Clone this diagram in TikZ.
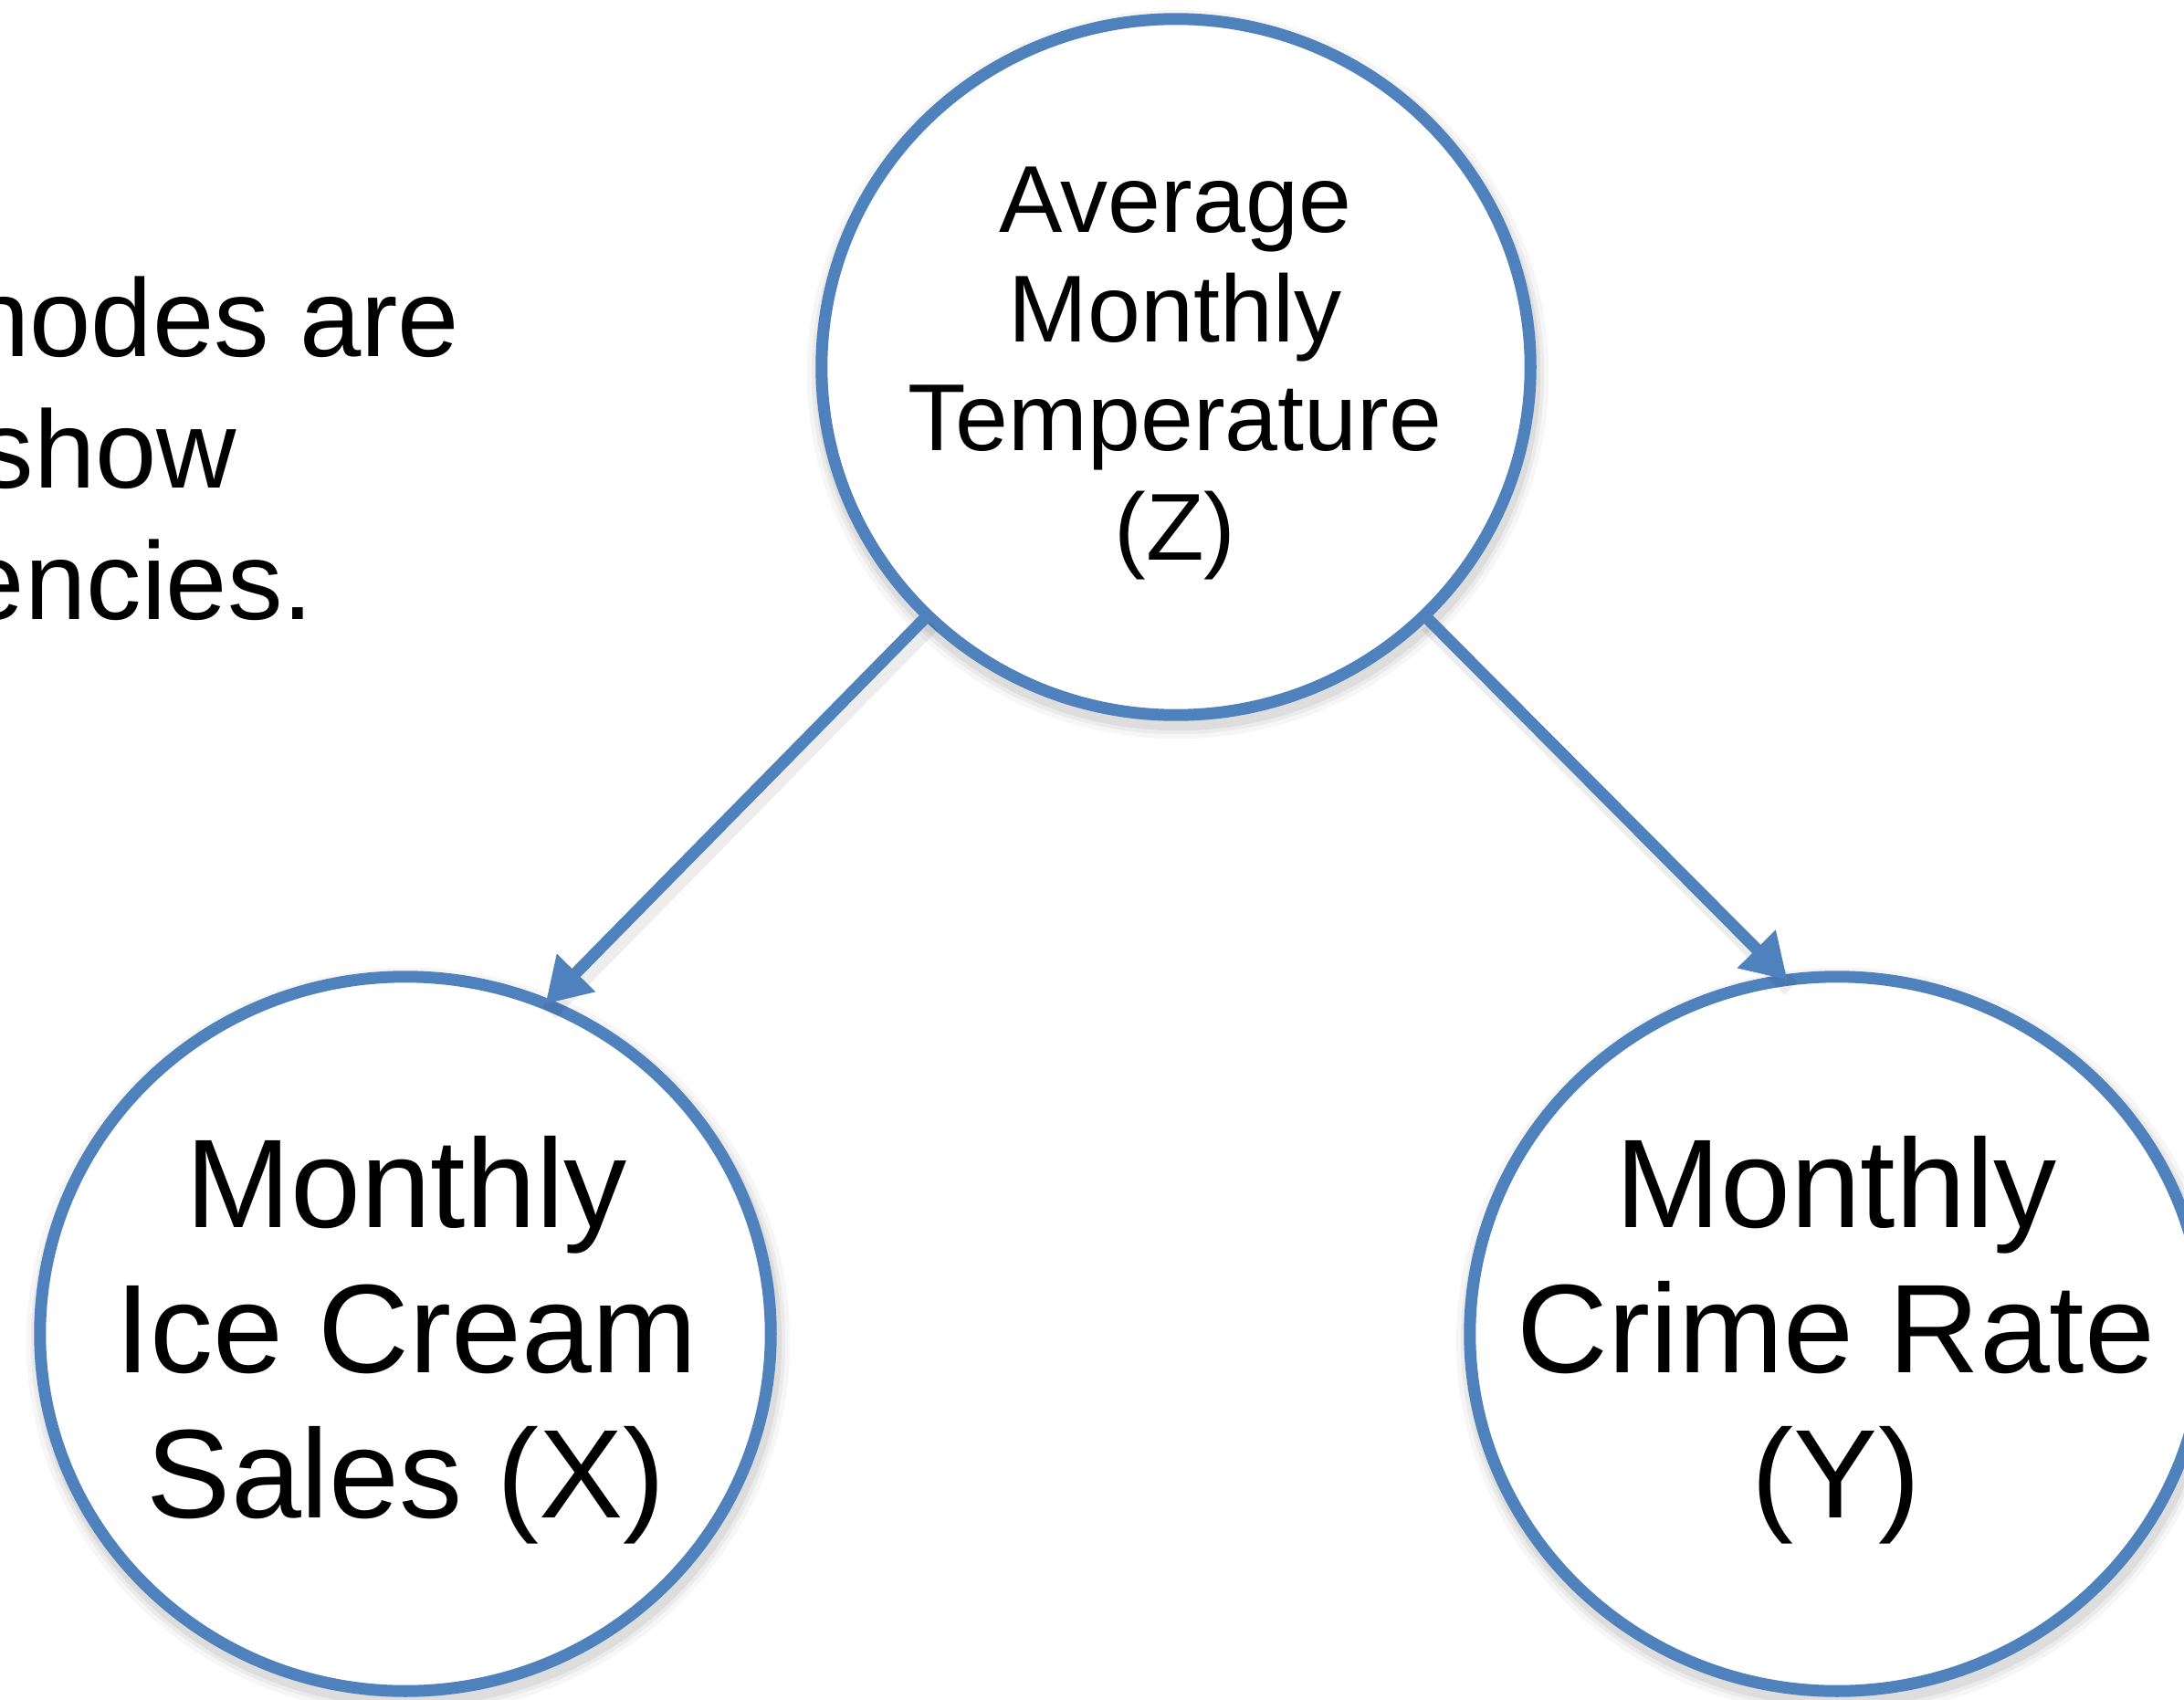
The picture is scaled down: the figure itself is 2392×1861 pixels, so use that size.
\documentclass[tikz,border=0pt]{standalone}
\usepackage{fontspec}
\setmainfont{Liberation Sans}
\usetikzlibrary{arrows.meta,shapes.geometric}
\definecolor{nodeblue}{RGB}{79,129,189}
\begin{document}
\begin{tikzpicture}[x=0.01cm,y=-0.01cm,
  varnode/.style={ellipse, draw=nodeblue, line width=0.13cm, fill=white, inner sep=0pt, outer sep=0pt},
  edge/.style={draw=nodeblue, line width=0.13cm, -{Triangle[length=0.48cm,width=0.56cm]}},
  edgeshadow/.style={draw=black, line width=0.2cm, opacity=0.07},
  labeltxt/.style={align=center, inner sep=0pt},
  sidetxt/.style={anchor=base east, inner sep=0pt, font=\fontsize{34.4}{41}\selectfont},
  shade1/.style={draw=black, line width=0.36cm, opacity=0.035},
  shade2/.style={draw=black, line width=0.26cm, opacity=0.045},
  shade3/.style={draw=black, line width=0.18cm, opacity=0.06}]
\useasboundingbox (0,0) rectangle (2392,1861);
\clip (0,0) rectangle (2392,1861);
% soft shadows under the circles
\foreach \cx/\cy/\rx/\ry in {1290/410/3.88/3.81, 447/1469/4.00/3.91, 2015/1469/4.02/3.91}{
  \draw[shade1] (\cx,\cy) ellipse [x radius=\rx cm, y radius=\ry cm];
  \draw[shade2] (\cx,\cy) ellipse [x radius=\rx cm, y radius=\ry cm];
  \draw[shade3] (\cx,\cy) ellipse [x radius=\rx cm, y radius=\ry cm];
}
% nodes
\node[varnode, minimum width=7.76cm, minimum height=7.62cm] (Z) at (1288,402) {};
\node[varnode, minimum width=8.00cm, minimum height=7.82cm] (X) at (444,1461) {};
\node[varnode, minimum width=8.04cm, minimum height=7.82cm] (Y) at (2012,1461) {};
% connector shadows
\draw[edgeshadow] ([shift={(4,9)}]Z.225) -- ([shift={(4,9)}]X.67.8);
\draw[edgeshadow] ([shift={(4,9)}]Z.-45) -- ([shift={(4,9)}]Y.98.4);
% connectors
\draw[edge] (Z.225) -- (X.67.8);
\draw[edge] (Z.-45) -- (Y.98.4);
% labels
\node[labeltxt, font=\fontsize{29.6}{34.1}\selectfont] (Zt) at (1287,409) {Average\\Monthly\\Temperature\\(Z)};
\node[labeltxt, font=\fontsize{39.3}{45.2}\selectfont] (Xt) at (445,1468) {Monthly\\Ice Cream\\Sales (X)};
\node[labeltxt, font=\fontsize{39.3}{45.2}\selectfont] (Yt) at (2011,1468) {Monthly\\Crime Rate\\(Y)};
% cut-off side text
\node[sidetxt] (t1) at (504,390) {nodes are};
\node[sidetxt] (t2) at (260,534) {show};
\node[sidetxt] (t3) at (344,678) {encies.};
\end{tikzpicture}
\end{document}
